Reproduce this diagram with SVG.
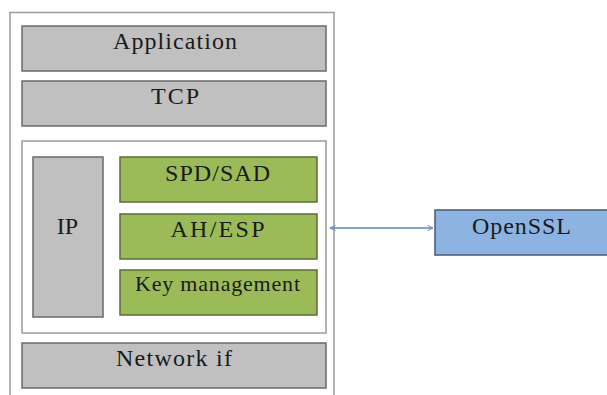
<svg xmlns="http://www.w3.org/2000/svg" width="607" height="395" viewBox="0 0 607 395">
<style>
.gray{fill:#c0c0c0;stroke:#6a6a6a;stroke-width:1.5}
.green{fill:#9bbb59;stroke:#5a6e38;stroke-width:1.5}
.blue{fill:#8db3e2;stroke:#4a5a70;stroke-width:1.5}
.frame{fill:#fff;stroke:#9a9a9a;stroke-width:1.5}
.conn{stroke:#5b86c0;stroke-width:1.3;fill:none}
</style>
<defs>
<marker id="ah" viewBox="0 0 10 10" refX="9" refY="5" markerWidth="7" markerHeight="7" orient="auto-start-reverse" markerUnits="userSpaceOnUse">
<path d="M1,1 L9,5 L1,9" fill="none" stroke="#5b86c0" stroke-width="1.3"/>
</marker>
</defs>
<rect width="607" height="395" fill="#fff"/>
<g id="frame"><path class="frame" d="M10,396 V12.5 H334 V396"/></g>
<g font-family="Liberation Serif, DejaVu Serif, serif" font-size="24" fill="#1a1a1a" text-anchor="middle" lengthAdjust="spacing">
<g id="application"><rect class="gray" x="22" y="26" width="304" height="45"/><text x="175" y="49" textLength="124">Application</text></g>
<g id="tcp"><rect class="gray" x="22" y="81" width="304" height="45"/><text x="175" y="104" textLength="48">TCP</text></g>
<g id="ipsec-box"><rect class="frame" x="22" y="141" width="304" height="192"/></g>
<g id="ip"><rect class="gray" x="33" y="157" width="70" height="160"/><text x="67.5" y="234">IP</text></g>
<g id="spd-sad"><rect class="green" x="120" y="157" width="197" height="45"/><text x="217.5" y="181" textLength="105">SPD/SAD</text></g>
<g id="ah-esp"><rect class="green" x="120" y="214" width="197" height="45"/><text x="217.5" y="237" textLength="94">AH/ESP</text></g>
<g id="key-management"><rect class="green" x="120" y="270" width="197" height="45"/><text x="217.5" y="291" font-size="22" textLength="165">Key management</text></g>
<g id="network-if"><rect class="gray" x="22" y="343" width="304" height="45"/><text x="174" y="366" textLength="116">Network if</text></g>
<g id="openssl"><rect class="blue" x="435" y="210" width="175" height="45"/><text x="521.5" y="234" textLength="99">OpenSSL</text></g>
</g>
<g id="connectors"><line class="conn" x1="330" y1="228" x2="433" y2="228" marker-start="url(#ah)" marker-end="url(#ah)"/></g>
</svg>
